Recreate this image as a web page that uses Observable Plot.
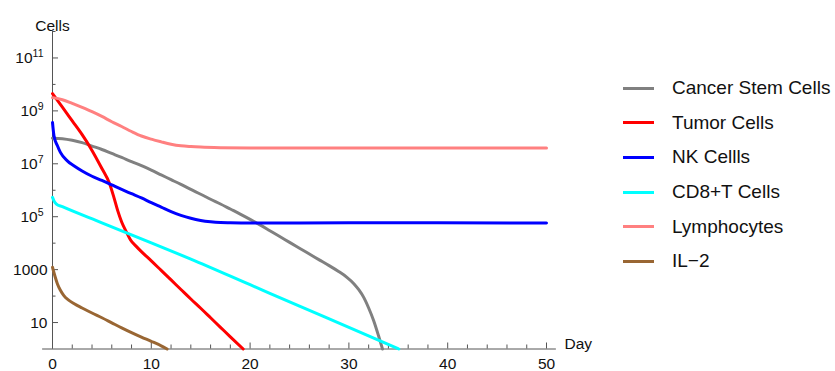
<!DOCTYPE html>
<html><head><meta charset="utf-8">
<script src="https://cdn.jsdelivr.net/npm/d3@7"></script>
<script src="https://cdn.jsdelivr.net/npm/@observablehq/plot@0.6"></script>
<style>
body{margin:0;background:#fff;}
#wrap{position:relative;width:835px;height:371px;font-family:"Liberation Sans",Arial,sans-serif;}
#wrap svg text{font-size:15.5px;font-family:"Liberation Sans",Arial,sans-serif;}
#legend{position:absolute;left:623px;top:71px;}
.row{display:flex;align-items:center;height:34.6px;}
.sw{width:31px;height:3px;margin-right:18px;flex:none;}
.lab{font-size:19px;color:#111;white-space:nowrap;}
</style></head><body><div id="wrap"></div>
<script>
// [day, log10(cells)]
const cancerStemCells = [[0,7.97],[1,7.95],[2,7.89],[3,7.8],[4,7.67],[5,7.54],[6,7.39],[7,7.24],[8,7.08],[9,6.93],[10,6.76],[11,6.58],[12,6.4],[13,6.22],[14,6.03],[15,5.85],[16,5.66],[17,5.48],[18,5.29],[19,5.1],[20,4.9],[21,4.69],[22,4.47],[23,4.25],[24,4.03],[25,3.81],[26,3.59],[27,3.37],[28,3.15],[29,2.92],[29.8,2.71],[30.5,2.47],[31,2.24],[31.5,1.95],[32,1.55],[32.5,1.08],[33,0.5],[33.4,0]];
const tumorCells = [[0,9.65],[1,9.14],[2,8.62],[3,8.1],[3.85,7.6],[5,6.82],[5.8,6.23],[6.2,5.75],[6.6,5.23],[7,4.8],[7.5,4.41],[7.9,4.12],[8.5,3.87],[9,3.68],[10,3.33],[11,2.97],[12,2.61],[13,2.25],[14,1.89],[15,1.54],[16,1.18],[17,0.82],[18,0.46],[19.3,0]];
const nkCells = [[0,8.56],[0.15,8.06],[0.5,7.68],[0.8,7.43],[1.5,7.11],[2.2,6.92],[3,6.73],[4,6.53],[5,6.37],[6,6.2],[7,6.03],[8,5.87],[9,5.71],[10,5.53],[11,5.36],[12,5.19],[13,5.05],[14,4.94],[15,4.86],[16,4.81],[17,4.78],[18,4.77],[20,4.76],[30,4.77],[50,4.76]];
const cd8TCells = [[0,5.73],[0.15,5.6],[0.4,5.48],[1,5.38],[5,4.77],[10,4.01],[14,3.4],[20,2.43],[25,1.62],[30,0.82],[35.05,0]];
const lymphocytes = [[0,9.5],[1,9.42],[2,9.28],[3,9.13],[4,8.97],[5,8.79],[6,8.59],[7,8.41],[8,8.22],[9,8.05],[10,7.93],[11,7.83],[12,7.74],[13,7.68],[14,7.65],[15,7.63],[17,7.61],[20,7.6],[30,7.6],[50,7.6]];
const il2 = [[0,3.09],[0.25,2.75],[0.5,2.46],[0.8,2.22],[1.15,2.02],[1.6,1.86],[2.2,1.71],[3,1.55],[4,1.36],[5,1.18],[6,0.99],[7,0.8],[8,0.62],[9,0.45],[10,0.29],[11,0.12],[11.6,0]];

const seriesNames = ["Cancer Stem Cells","Tumor Cells","NK Cellls","CD8+T Cells","Lymphocytes","IL\u22122"];
const seriesData = [cancerStemCells, tumorCells, nkCells, cd8TCells, lymphocytes, il2];
const seriesColors = ["#808080","#ff0000","#0000ff","#00ffff","#ff8080","#996633"];

const xMajorTicks = [0,10,20,30,40,50];
const xMinorTicks = [2,4,6,8,12,14,16,18,22,24,26,28,32,34,36,38,42,44,46,48];
const yMajorTicks = [1e1,1e3,1e5,1e7,1e9,1e11];
const yMinorTicks = [1e2,1e4,1e6,1e8,1e10,1e12];
const xDomain = [0,50];
const yDomain = [1,1e12];
const axisOverhang = 1; // x axis line runs one day past each end
const xLabel = "Day", yLabel = "Cells";

const axisColor = "#555";
const textColor = "#111";
const fs = 15.5;
const lineMarks = seriesData.map((s, i) => Plot.line(s, {
  x: d => d[0], y: d => Math.pow(10, d[1]), stroke: seriesColors[i],
  strokeWidth: 3, curve: "monotone-x"
}));

const fmt = d => d >= 1e5 ? "10^" + Math.round(Math.log10(d)) : String(d);

const chart = Plot.plot({
  width: 835, height: 371,
  marginLeft: 52, marginRight: 289, marginTop: 31, marginBottom: 22.5,
  x: {domain: xDomain},
  y: {type: "log", domain: yDomain},
  style: {fontFamily: "'Liberation Sans', Arial, sans-serif", fontSize: fs + "px", color: textColor, background: "white", overflow: "visible"},
  marks: [
    Plot.ruleY([yDomain[0]], {x1: xDomain[0] - axisOverhang, x2: xDomain[1] + axisOverhang, stroke: axisColor}),
    Plot.ruleX([xDomain[0]], {stroke: axisColor}),
    Plot.axisX(xMajorTicks, {tickSize: 6, dy: -6, fill: "none", stroke: axisColor, label: null}),
    Plot.axisX(xMinorTicks, {tickSize: 4, dy: -4, fill: "none", stroke: axisColor, label: null}),
    Plot.axisX(xMajorTicks, {tickSize: 0, tickPadding: 9, label: null, fill: textColor, fontSize: fs}),
    Plot.axisY(yMajorTicks, {tickSize: 6, dx: 6, fill: "none", stroke: axisColor, label: null}),
    Plot.axisY(yMinorTicks, {tickSize: 3.5, dx: 3.5, fill: "none", stroke: axisColor, label: null}),
    Plot.axisY(yMajorTicks, {tickSize: 0, tickPadding: 5, label: null, tickFormat: fmt, fill: textColor, fontSize: fs}),
    ...lineMarks,
    Plot.text([yLabel], {frameAnchor: "top-left", dy: -12, textAnchor: "middle", text: d => d, fill: textColor, fontSize: fs}),
    Plot.text([xLabel], {frameAnchor: "bottom-right", dx: 18, textAnchor: "start", text: d => d, fill: textColor, fontSize: fs})
  ]
});

// superscript exponents on y tick labels
chart.querySelectorAll('g[aria-label="y-axis tick label"] text').forEach(t => {
  const s = t.textContent;
  if (s.includes("^")) {
    const [base, exp] = s.split("^");
    t.textContent = base;
    const ts = document.createElementNS("http://www.w3.org/2000/svg", "tspan");
    ts.setAttribute("dy", "-6");
    ts.setAttribute("style", "font-size:10.5px");
    ts.textContent = exp;
    t.appendChild(ts);
    t.setAttribute("dx", "-4");
  }
});

const wrap = document.getElementById("wrap");
wrap.appendChild(chart);
const legend = document.createElement("div");
legend.id = "legend";
seriesNames.forEach((n, i) => {
  const row = document.createElement("div"); row.className = "row";
  const sw = document.createElement("div"); sw.className = "sw"; sw.style.background = seriesColors[i];
  const lab = document.createElement("span"); lab.className = "lab"; lab.textContent = n;
  row.appendChild(sw); row.appendChild(lab); legend.appendChild(row);
});
wrap.appendChild(legend);
</script></body></html>
